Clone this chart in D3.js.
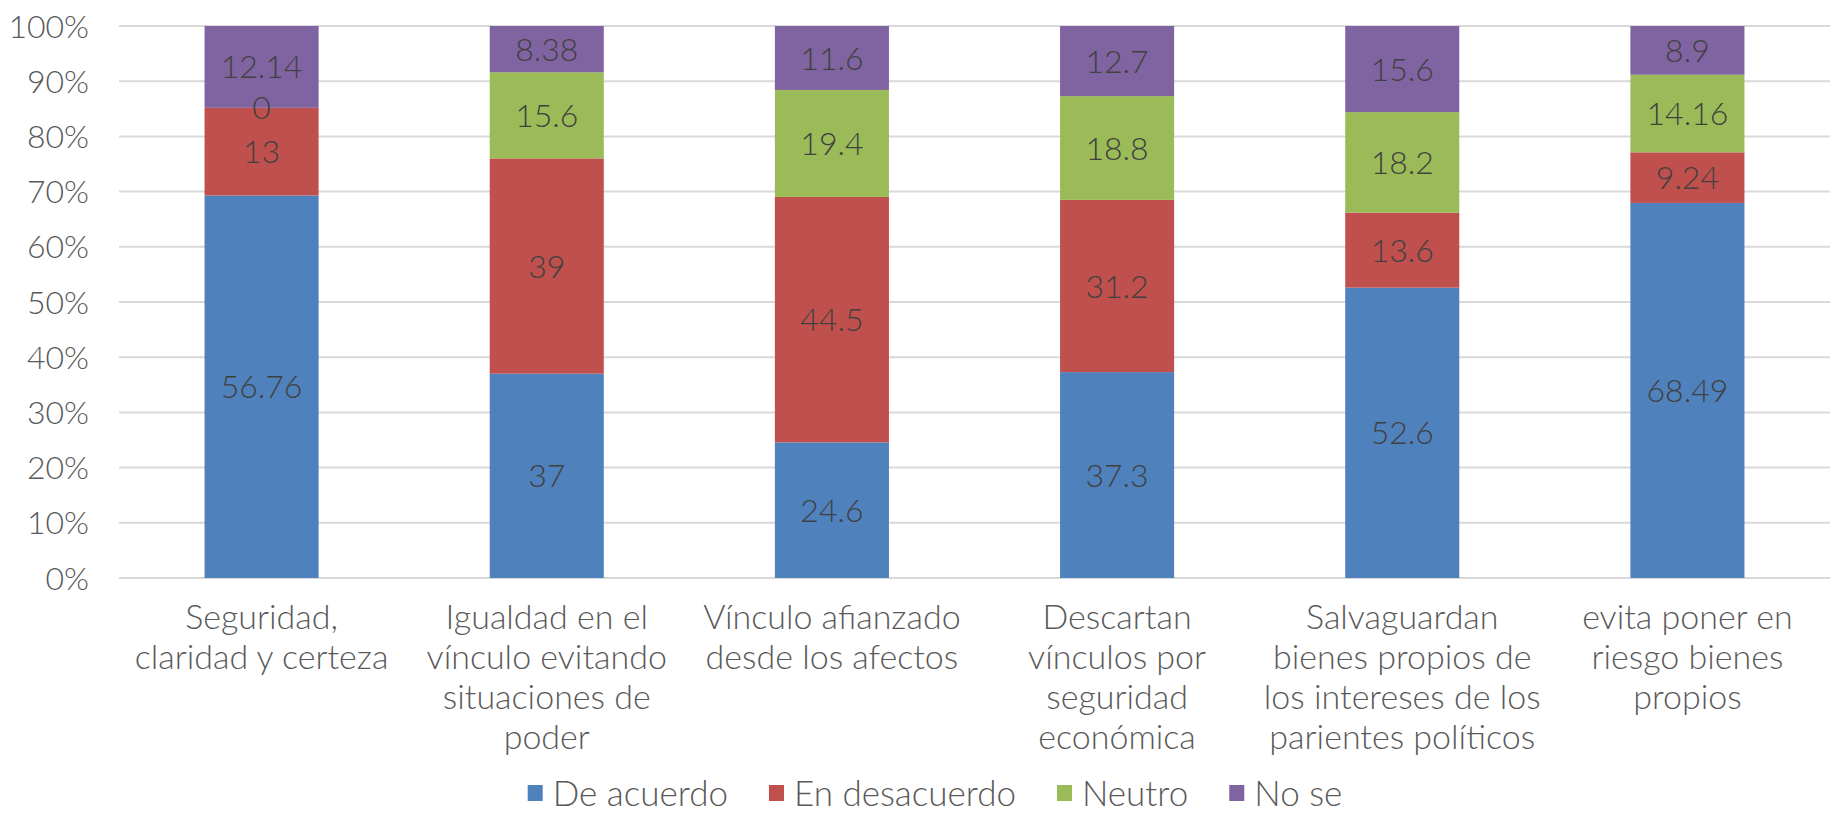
<!DOCTYPE html>
<html lang="es">
<head>
    <meta charset="UTF-8">
    <title>Stacked 100% chart</title>
    <script src="https://d3js.org/d3.v7.min.js"></script>
    <style>
        body { margin: 0; background: #fff; font-family: "Lato", sans-serif; }
        text { fill: #595959; font-weight: 300; }
    </style>
</head>
<body>
<svg id="chart" width="1830" height="815"></svg>
<script>
    // categories (line breaks as in the original chart)
    const categories = [
        "Seguridad,\nclaridad y certeza",
        "Igualdad en el\nvínculo evitando\nsituaciones de\npoder",
        "Vínculo afianzado\ndesde los afectos",
        "Descartan\nvínculos por\nseguridad\neconómica",
        "Salvaguardan\nbienes propios de\nlos intereses de los\nparientes políticos",
        "evita poner en\nriesgo bienes\npropios"
    ];
    const seriesNames = ["De acuerdo", "En desacuerdo", "Neutro", "No se"];
    const deAcuerdo    = [56.76, 37, 24.6, 37.3, 52.6, 68.49];
    const enDesacuerdo = [13, 39, 44.5, 31.2, 13.6, 9.24];
    const neutro       = [0, 15.6, 19.4, 18.8, 18.2, 14.16];
    const noSe         = [12.14, 8.38, 11.6, 12.7, 15.6, 8.9];
    const yTicks = [0, 0.1, 0.2, 0.3, 0.4, 0.5, 0.6, 0.7, 0.8, 0.9, 1];

    const colors = ["#4F81BD", "#C0504D", "#9BBB59", "#8064A2"];

    const svg = d3.select("#chart");
    const plotLeft = 119, plotRight = 1830, plotTop = 26, plotBottom = 578;

    const rows = categories.map((c, i) => ({
        cat: c,
        "De acuerdo": deAcuerdo[i],
        "En desacuerdo": enDesacuerdo[i],
        "Neutro": neutro[i],
        "No se": noSe[i]
    }));

    const stacked = d3.stack().keys(seriesNames).offset(d3.stackOffsetExpand)(rows);

    const x = d3.scaleBand().domain(categories).range([plotLeft, plotRight])
        .paddingInner(0.6).paddingOuter(0.3);
    const y = d3.scaleLinear().domain([0, 1]).range([plotBottom, plotTop]);

    // gridlines
    svg.append("g").selectAll("line").data(yTicks).join("line")
        .attr("x1", plotLeft).attr("x2", plotRight)
        .attr("y1", d => y(d)).attr("y2", d => y(d))
        .attr("stroke", "#d9d9d9").attr("stroke-width", 2);

    // y axis labels
    svg.append("g").selectAll("text").data(yTicks).join("text")
        .attr("x", 89).attr("y", d => y(d))
        .attr("dy", "0.36em")
        .attr("text-anchor", "end")
        .style("font-size", "32px")
        .text(d3.format(".0%"));

    // bars
    const layers = svg.append("g").selectAll("g").data(stacked).join("g")
        .attr("fill", (d, i) => colors[i]);

    layers.selectAll("rect").data(d => d).join("rect")
        .attr("x", d => x(d.data.cat))
        .attr("width", x.bandwidth())
        .attr("y", d => y(d[1]))
        .attr("height", d => y(d[0]) - y(d[1]));

    // data labels
    stacked.forEach(s => {
        svg.append("g").selectAll("text").data(s).join("text")
            .attr("x", d => x(d.data.cat) + x.bandwidth() / 2)
            .attr("y", d => y((d[0] + d[1]) / 2))
            .attr("dy", "0.36em")
            .attr("text-anchor", "middle")
            .style("font-size", "32px")
            .style("fill", "#404040")
            .text(d => d.data[s.key]);
    });

    // category labels
    const catG = svg.append("g");
    categories.forEach(c => {
        const t = catG.append("text")
            .attr("text-anchor", "middle")
            .style("font-size", "34px");
        c.split("\n").forEach((line, j) => {
            t.append("tspan")
                .attr("x", x(c) + x.bandwidth() / 2)
                .attr("y", 617 + j * 40)
                .attr("dy", "0.36em")
                .text(line);
        });
    });

    // legend
    const legend = svg.append("g");
    let lx = 0;
    seriesNames.forEach((name, i) => {
        const item = legend.append("g").attr("transform", `translate(${lx},0)`);
        item.append("rect").attr("x", 0).attr("y", -8).attr("width", 15).attr("height", 16)
            .attr("fill", colors[i]);
        const t = item.append("text").attr("x", 25).attr("dy", "0.36em")
            .style("font-size", "35px").text(name);
        lx += 25 + t.node().getComputedTextLength() + 41;
    });
    const legendW = lx - 41;
    legend.attr("transform", `translate(${935 - legendW / 2},793)`);
</script>
</body>
</html>
